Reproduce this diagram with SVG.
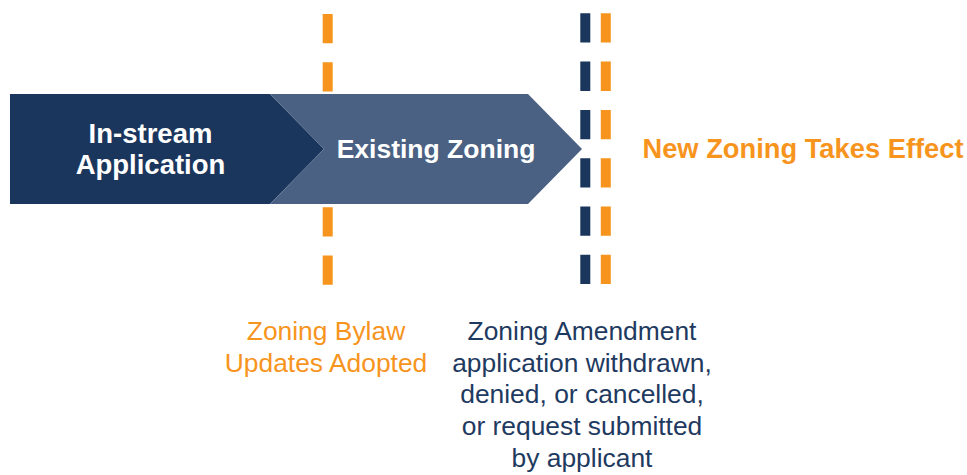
<svg xmlns="http://www.w3.org/2000/svg" width="967" height="475" viewBox="0 0 967 475">
<style>
.dash{fill:none;stroke-width:10;stroke-dasharray:29.3 19;}
.or{stroke:#f7941d;}
.nv{stroke:#1b365d;}
.t{font-family:"Liberation Sans",Arial,sans-serif;text-anchor:middle;}
.b{font-weight:bold;font-size:26.5px;fill:#ffffff;}
.lab{font-size:26.4px;}
</style>
<rect width="967" height="475" fill="#ffffff"/>
<g id="connectors">
<line class="dash or" x1="327.7" y1="14" x2="327.7" y2="285"/>
<line class="dash nv" x1="585.3" y1="13.3" x2="585.3" y2="285"/>
<line class="dash or" x1="605.8" y1="13.3" x2="605.8" y2="285"/>
</g>
<g id="node-instream">
<polygon points="10,94 270,94 324,149 270,204 10,204" fill="#1b365d"/>
<text class="t b" x="150.5" y="143" style="font-size:27.5px">In-stream</text>
<text class="t b" x="150.5" y="174" style="font-size:27.5px">Application</text>
</g>
<g id="node-existing">
<polygon points="270,94 528,94 582,149 528,204 270,204 324,149" fill="#4a6183"/>
<text class="t b" x="436" y="158">Existing Zoning</text>
</g>
<g id="node-new">
<text class="t" x="803" y="158" style="font-weight:bold;font-size:27.3px;fill:#f7941d">New Zoning Takes Effect</text>
</g>
<g id="label-bylaw" class="t lab" fill="#f7941d">
<text x="326" y="340">Zoning Bylaw</text>
<text x="326" y="371.7">Updates Adopted</text>
</g>
<g id="label-amendment" class="t lab" fill="#1f3a60">
<text x="582" y="340">Zoning Amendment</text>
<text x="582" y="371.7">application withdrawn,</text>
<text x="582" y="403.3">denied, or cancelled,</text>
<text x="582" y="435">or request submitted</text>
<text x="582" y="466.7">by applicant</text>
</g>
</svg>
